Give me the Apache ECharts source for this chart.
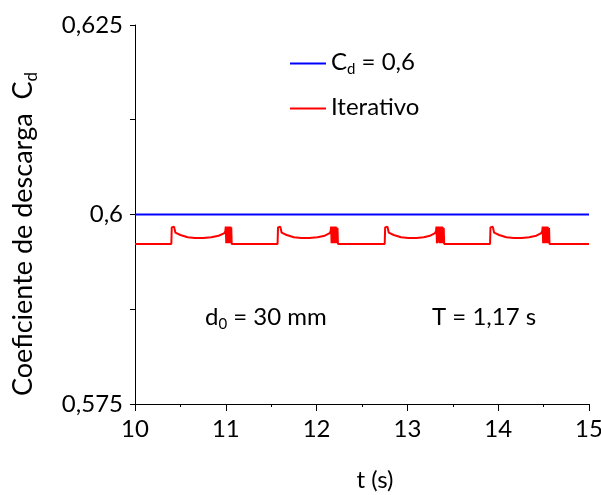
<!DOCTYPE html>
<html>
<head>
<meta charset="utf-8">
<script src="https://cdn.jsdelivr.net/npm/echarts@6/dist/echarts.min.js"></script>
<style>html,body{margin:0;padding:0;background:#fff;}#c{width:601px;height:495px;}</style>
</head>
<body>
<div id="c"></div>
<script>
// ---- data ----
var xTicks = [10, 11, 12, 13, 14, 15];
var yTicks = [0.575, 0.6, 0.625];
var cdConst = [[10, 0.6], [15, 0.6]];
var iterativo = [
  [10.00,0.5961],[10.40,0.5961],[10.405,0.5983],[10.43,0.5984],[10.445,0.5976],[10.50,0.5973],[10.58,0.5970],[10.66,0.5969],[10.75,0.5969],[10.84,0.5970],[10.92,0.5972],[10.98,0.5975],[10.995,0.5978],
  [11.00,0.5984],[11.005,0.5962],[11.01,0.5984],[11.015,0.5963],[11.02,0.5984],[11.025,0.5962],[11.03,0.5984],[11.035,0.5963],[11.04,0.5984],[11.045,0.5962],[11.05,0.5984],[11.055,0.5963],[11.06,0.5983],[11.065,0.5961],
  [11.57,0.5961],[11.575,0.5983],[11.60,0.5984],[11.615,0.5976],[11.67,0.5973],[11.75,0.5970],[11.83,0.5969],[11.92,0.5969],[12.01,0.5970],[12.09,0.5972],[12.14,0.5975],[12.155,0.5978],
  [12.16,0.5984],[12.165,0.5962],[12.17,0.5984],[12.175,0.5963],[12.18,0.5984],[12.185,0.5962],[12.19,0.5984],[12.195,0.5963],[12.20,0.5984],[12.205,0.5962],[12.21,0.5984],[12.215,0.5963],[12.22,0.5983],[12.225,0.5962],[12.23,0.5982],[12.235,0.5961],
  [12.75,0.5961],[12.755,0.5983],[12.78,0.5984],[12.795,0.5976],[12.85,0.5973],[12.93,0.5970],[13.01,0.5969],[13.10,0.5969],[13.18,0.5970],[13.25,0.5972],[13.30,0.5975],[13.315,0.5978],
  [13.32,0.5984],[13.325,0.5962],[13.335,0.5978],[13.34,0.5984],[13.345,0.5963],[13.35,0.5984],[13.355,0.5962],[13.36,0.5984],[13.365,0.5963],[13.37,0.5984],[13.375,0.5962],[13.38,0.5984],[13.385,0.5963],[13.39,0.5983],[13.395,0.5962],[13.40,0.5982],[13.405,0.5961],
  [13.91,0.5961],[13.915,0.5983],[13.94,0.5984],[13.955,0.5976],[14.01,0.5973],[14.09,0.5970],[14.17,0.5969],[14.26,0.5969],[14.34,0.5970],[14.42,0.5972],[14.47,0.5975],[14.485,0.5978],
  [14.49,0.5984],[14.495,0.5962],[14.50,0.5984],[14.505,0.5963],[14.51,0.5984],[14.515,0.5962],[14.52,0.5984],[14.525,0.5963],[14.53,0.5984],[14.535,0.5962],[14.54,0.5984],[14.545,0.5963],[14.55,0.5983],[14.555,0.5962],[14.56,0.5982],[14.565,0.5961],
  [15.00,0.5961]
];
// ---- chart ----
var FONT = 'Lato';
var FS = 24;
var subRich = function (big, small, color, drop) {
  return {
    n: {fontFamily: FONT, fontSize: big, color: color, fill: color, verticalAlign: 'top', padding: [0, 0, 0, 0]},
    s: {fontFamily: FONT, fontSize: small, color: color, fill: color, verticalAlign: 'top', padding: [drop, 0, 0, 0]}
  };
};
var chart = echarts.init(document.getElementById('c'), null, {renderer: 'canvas'});
var fmt = function (v) { return String(+v.toFixed(4)).replace('.', ','); };
chart.setOption({
  animation: false,
  backgroundColor: '#fff',
  textStyle: {fontFamily: FONT},
  grid: {left: 135, right: 12, top: 25, bottom: 91, containLabel: false, outerBoundsMode: 'none'},
  legend: {
    orient: 'vertical', left: 285, top: 45, itemGap: 18,
    icon: 'rect', itemWidth: 36, itemHeight: 2,
    textStyle: {fontFamily: FONT, fontSize: FS, color: '#000', rich: subRich(FS, 15, '#000', 12)},
    formatter: function (name) {
      if (name === 'Cd = 0,6') return '{n|C}{s|d}{n| = 0,6}';
      return '{n|' + name + '}{s| }';
    },
    data: ['Cd = 0,6', 'Iterativo']
  },
  xAxis: {
    type: 'value', min: xTicks[0], max: xTicks[xTicks.length - 1], interval: 1,
    axisLine: {show: true, onZero: false, lineStyle: {color: '#000', width: 1}},
    axisTick: {show: true, inside: false, length: 7, lineStyle: {color: '#000'}},
    minorTick: {show: true, splitNumber: 2, length: 3, lineStyle: {color: '#000'}},
    splitLine: {show: false},
    axisLabel: {fontFamily: FONT, fontSize: FS, color: '#000', margin: 13}
  },
  yAxis: {
    type: 'value', min: yTicks[0], max: yTicks[yTicks.length - 1], interval: 0.025,
    axisLine: {show: true, onZero: false, lineStyle: {color: '#000', width: 1}},
    axisTick: {show: true, inside: false, length: 5, lineStyle: {color: '#000'}},
    minorTick: {show: true, splitNumber: 2, length: 5, lineStyle: {color: '#000'}},
    splitLine: {show: false},
    axisLabel: {fontFamily: FONT, fontSize: FS, color: '#000', margin: 12, formatter: fmt}
  },
  graphic: [
    {type: 'text', x: 25, y: 234, rotation: Math.PI / 2, style: {
      text: '{n|Coeficiente de descarga  C}{s|d}', align: 'center', verticalAlign: 'middle',
      rich: subRich(27, 17, '#000', 13)}},
    {type: 'text', x: 375, y: 480, style: {
      text: 't (s)', align: 'center', verticalAlign: 'middle', fill: '#000', font: FS + 'px ' + FONT}},
    {type: 'text', left: 205, top: 305, style: {
      text: '{n|d}{s|0}{n| = 30 mm}', rich: subRich(FS, 15, '#000', 12)}},
    {type: 'text', left: 432, top: 305, style: {
      text: 'T = 1,17 s', fill: '#000', font: FS + 'px ' + FONT}}
  ],
  series: [
    {name: 'Cd = 0,6', type: 'line', data: cdConst, showSymbol: false, symbol: 'none',
     lineStyle: {color: '#0000ff', width: 2}, itemStyle: {color: '#0000ff'}},
    {name: 'Iterativo', type: 'line', data: iterativo, showSymbol: false, symbol: 'none',
     lineStyle: {color: '#ff0000', width: 2}, itemStyle: {color: '#ff0000'}}
  ]
});
</script>
</body>
</html>
